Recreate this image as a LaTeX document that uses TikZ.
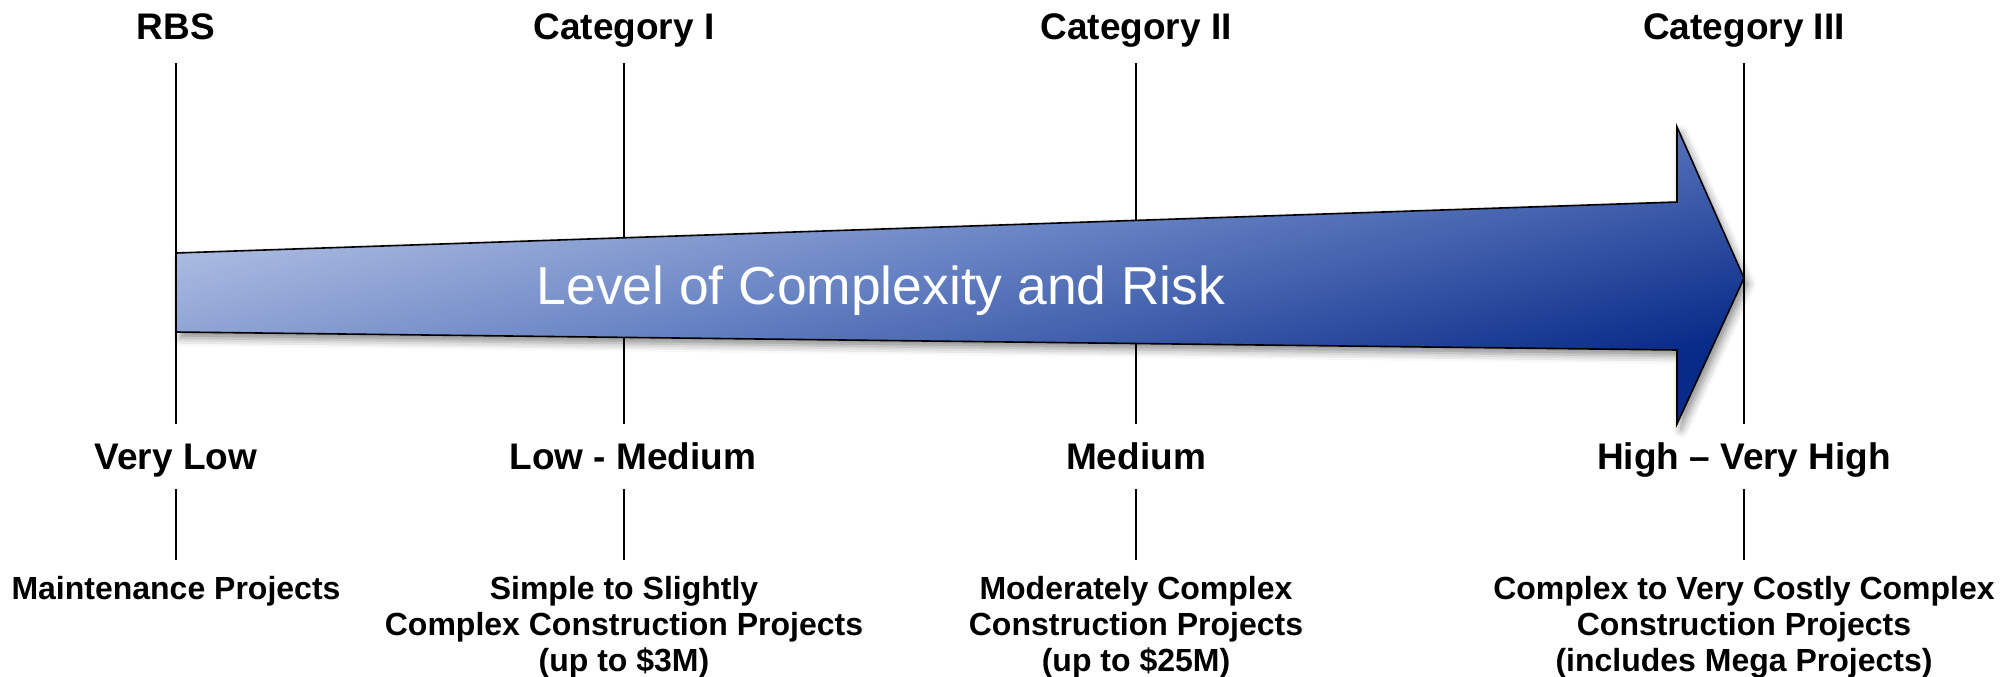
\documentclass[tikz,border=0pt]{standalone}
\usepackage{fontspec}
\setmainfont{Liberation Sans}
\usetikzlibrary{shadows.blur}
\definecolor{arrowlight}{RGB}{192,205,234}
\definecolor{arrowmid}{RGB}{100,128,194}
\definecolor{arrowdark}{RGB}{8,42,136}
\tikzset{
  catlabel/.style={font=\bfseries\fontsize{18.5}{22}\selectfont,inner sep=0pt,anchor=base},
  levellabel/.style={catlabel},
  projlabel/.style={font=\bfseries\fontsize{16}{18}\selectfont,inner sep=0pt,anchor=north,align=center},
  tickline/.style={line width=0.65pt},
}
\newcommand{\arrowpath}{(176,253)--(1677,202)--(1677,127)--(1744,278)--(1677,424)--(1677,350)--(176,332)--cycle}
\begin{document}
\begin{tikzpicture}[x=0.5pt,y=-0.5pt]
        \useasboundingbox (0,0) rectangle (2013,676);
        \foreach \i/\x/\mx/\cat/\lev/\proj in {
            0/176/176/RBS/Very Low/Maintenance Projects,
            1/624/633/Category I/Low - Medium/{Simple to Slightly\\Complex Construction Projects\\(up to \$3M)},
            2/1136/1136/Category II/Medium/{Moderately Complex\\Construction Projects\\(up to \$25M)},
            3/1744/1744/Category III/High – Very High/{Complex to Very Costly Complex\\Construction Projects\\(includes Mega Projects)}}
        {
            \node[catlabel](t\i)at(\x,39){\cat};
            \node[levellabel](m\i)at(\mx,469){\lev};
            \node[projlabel](b\i)at(\x,576){\proj};
            \draw[tickline]([yshift=-12pt]t\i.base)--([yshift=22.5pt]m\i.base -| t\i.base);
            \draw[tickline]([yshift=-10pt]m\i.base -| t\i.base)--([yshift=8pt]b\i.north -| t\i.base);
        }
        % the big arrow: shadow, tilted gradient, outline
        \path[fill=arrowdark,blur shadow={shadow xshift=2pt,shadow yshift=-3pt,shadow blur radius=4pt,shadow opacity=45}] \arrowpath;
        \begin{scope}
            \clip \arrowpath;
            \begin{scope}[transform canvas={rotate around={14:(900,280)}}]
                \shade[top color=arrowlight,bottom color=arrowdark,middle color=arrowmid] (-300,20) rectangle (2100,540);
            \end{scope}
        \end{scope}
        \draw[line width=0.8pt,line join=miter] \arrowpath;
        \node[text=white,font=\fontsize{26.7}{30}\selectfont,anchor=base](risk)at(881,304){Level of Complexity and Risk};
    \end{tikzpicture}
\end{document}
